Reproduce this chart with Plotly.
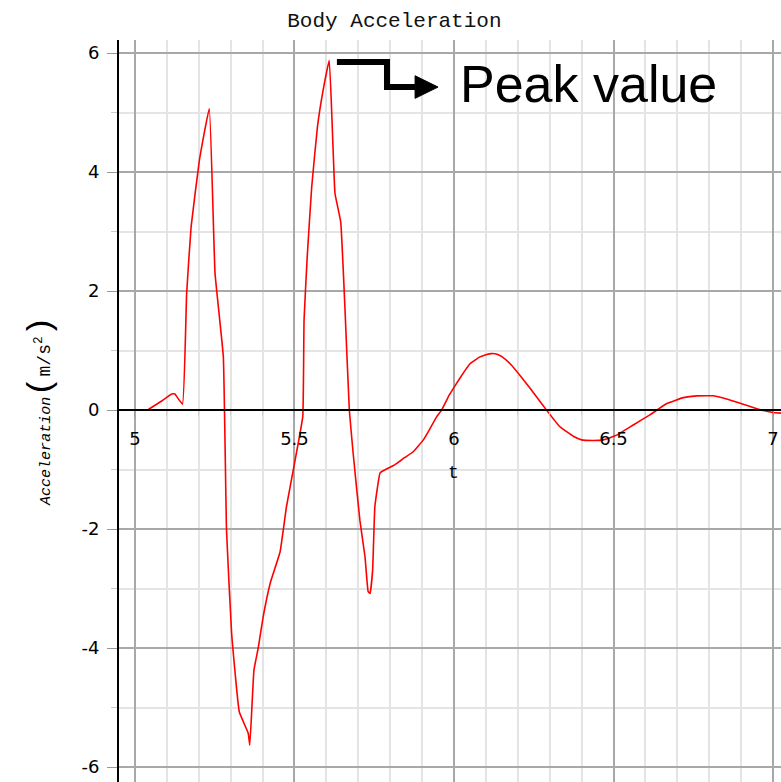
import plotly.graph_objects as go

# ---- data ----
t_values = [5.042, 5.08, 5.115, 5.125, 5.149, 5.162, 5.176, 5.202, 5.233, 5.251, 5.277,
            5.287, 5.303, 5.327, 5.355, 5.360, 5.373, 5.387, 5.402, 5.425, 5.455, 5.475,
            5.502, 5.526, 5.530, 5.540, 5.554, 5.572, 5.590, 5.609, 5.620, 5.627, 5.645,
            5.658, 5.672, 5.684, 5.705, 5.721, 5.731, 5.737, 5.745, 5.752, 5.768, 5.778,
            5.800, 5.820, 5.845, 5.872, 5.904, 5.925, 5.946, 5.961, 5.985, 6.008, 6.030,
            6.050, 6.080, 6.100, 6.118, 6.135, 6.150, 6.176, 6.212, 6.238, 6.265, 6.290,
            6.332, 6.374, 6.400, 6.435, 6.468, 6.510, 6.562, 6.614, 6.667, 6.719, 6.761,
            6.813, 6.865, 6.917, 6.964, 7.000, 7.025]
accel_values = [0.01, 0.14, 0.27, 0.27, 0.10, 1.96, 3.08, 4.20, 5.07, 2.30, 0.90,
                -2.02, -3.75, -5.07, -5.43, -5.63, -4.37, -3.98, -3.47, -2.89, -2.38, -1.62,
                -0.84, -0.11, 1.51, 2.58, 3.75, 4.76, 5.38, 5.88, 4.54, 3.64, 3.16,
                1.74, 0.00, -0.73, -1.85, -2.46, -3.05, -3.08, -2.69, -1.62, -1.06, -1.02,
                -0.96, -0.90, -0.80, -0.70, -0.50, -0.31, -0.11, 0.00, 0.25, 0.45, 0.63,
                0.78, 0.89, 0.93, 0.95, 0.94, 0.90, 0.78, 0.55, 0.37, 0.18, 0.00,
                -0.28, -0.44, -0.50, -0.51, -0.50, -0.42, -0.25, -0.08, 0.11, 0.21, 0.24,
                0.24, 0.17, 0.08, 0.00, -0.04, -0.05]

x_tick_vals = [5, 5.5, 6, 6.5, 7]
x_tick_text = ["5", "5.5", "6", "6.5", "7"]
y_tick_vals = [-6, -4, -2, 0, 2, 4, 6]
y_tick_text = ["-6", "-4", "-2", "0", "2", "4", "6"]

title_text = "Body Acceleration"
x_label = "t"
peak_label = "Peak value"

x_range = [4.95, 7.025]
y_range = [-6.25, 6.22]

fig = go.Figure()
fig.add_trace(go.Scatter(x=t_values, y=accel_values, mode="lines",
                         line=dict(color="#ff0000", width=1.6, shape="spline", smoothing=0.3),
                         hoverinfo="skip", showlegend=False))

zero_pos = (0 - y_range[0]) / (y_range[1] - y_range[0])

fig.update_layout(
    width=781, height=782,
    margin=dict(l=119, r=0, t=40, b=0),
    paper_bgcolor="white", plot_bgcolor="white",
    showlegend=False,
    title=dict(text=title_text, x=0.505, xanchor="center", y=0.975, yanchor="middle",
               font=dict(family="Liberation Mono", size=21, color="#111")),
    xaxis=dict(range=x_range, tickvals=x_tick_vals, ticktext=x_tick_text,
               anchor="free", position=zero_pos,
               showline=True, linecolor="black", linewidth=2,
               showgrid=True, gridcolor="#a8a8a8", gridwidth=1.5,
               minor=dict(dtick=0.1, tick0=5, showgrid=True, gridcolor="#e4e4e4",
                          gridwidth=1.5, ticks="outside", ticklen=4, tickcolor="#cccccc"),
               ticks="outside", ticklen=6, tickcolor="#999999",
               ticklabelstandoff=6,
               tickfont=dict(family="DejaVu Sans", size=18, color="black"),
               zeroline=False, fixedrange=True),
    yaxis=dict(range=y_range, tickvals=y_tick_vals, ticktext=y_tick_text,
               showline=True, linecolor="black", linewidth=2,
               showgrid=True, gridcolor="#a8a8a8", gridwidth=1.5,
               minor=dict(dtick=1, tick0=0, showgrid=True, gridcolor="#e4e4e4",
                          gridwidth=1.5, ticks="outside", ticklen=6, tickcolor="#cccccc"),
               ticks="outside", ticklen=10, tickcolor="#999999",
               ticklabelstandoff=4,
               tickfont=dict(family="DejaVu Sans", size=18, color="black"),
               zeroline=True, zerolinecolor="black", zerolinewidth=2,
               fixedrange=True),
)

# x axis label "t"
fig.add_annotation(x=6.0, y=-1.06, xref="x", yref="y", text=x_label, showarrow=False,
                   font=dict(family="Liberation Mono", size=18, color="black"))

# y axis label
fig.add_annotation(x=-0.118, y=0.5, xref="paper", yref="paper", xanchor="center",
                   yanchor="middle", textangle=-90, showarrow=False,
                   text="<i>Acceleration</i><span style='font-size:34px'>(</span>"
                        "<span style='font-size:18px'>m/s<sup>2</sup></span>"
                        "<span style='font-size:34px'>)</span>",
                   font=dict(family="Liberation Mono", size=15, color="black"))

# peak marker arrow derived from the data peak
i_peak = max(range(len(accel_values)), key=lambda i: accel_values[i])
px, py = t_values[i_peak], accel_values[i_peak]
x0 = px + 0.024
xc = px + 0.181
xh = px + 0.269
xt = px + 0.341
y_top = py - 0.031
y_bot = py - 0.451
fig.add_shape(type="path", xref="x", yref="y",
              path=f"M {x0},{y_top} L {xc},{y_top} L {xc},{y_bot} L {xh},{y_bot}",
              line=dict(color="black", width=6), layer="above")
fig.add_shape(type="path", xref="x", yref="y",
              path=f"M {xh},{y_bot + 0.19} L {xt},{y_bot} L {xh},{y_bot - 0.19} Z",
              fillcolor="black", line=dict(color="black", width=1), layer="above")
fig.add_annotation(x=px + 0.404, y=py - 0.40, xref="x", yref="y", xanchor="left",
                   yanchor="middle", text=peak_label, showarrow=False,
                   font=dict(family="Liberation Sans", size=52, color="black"))

fig.write_html("out.html")
